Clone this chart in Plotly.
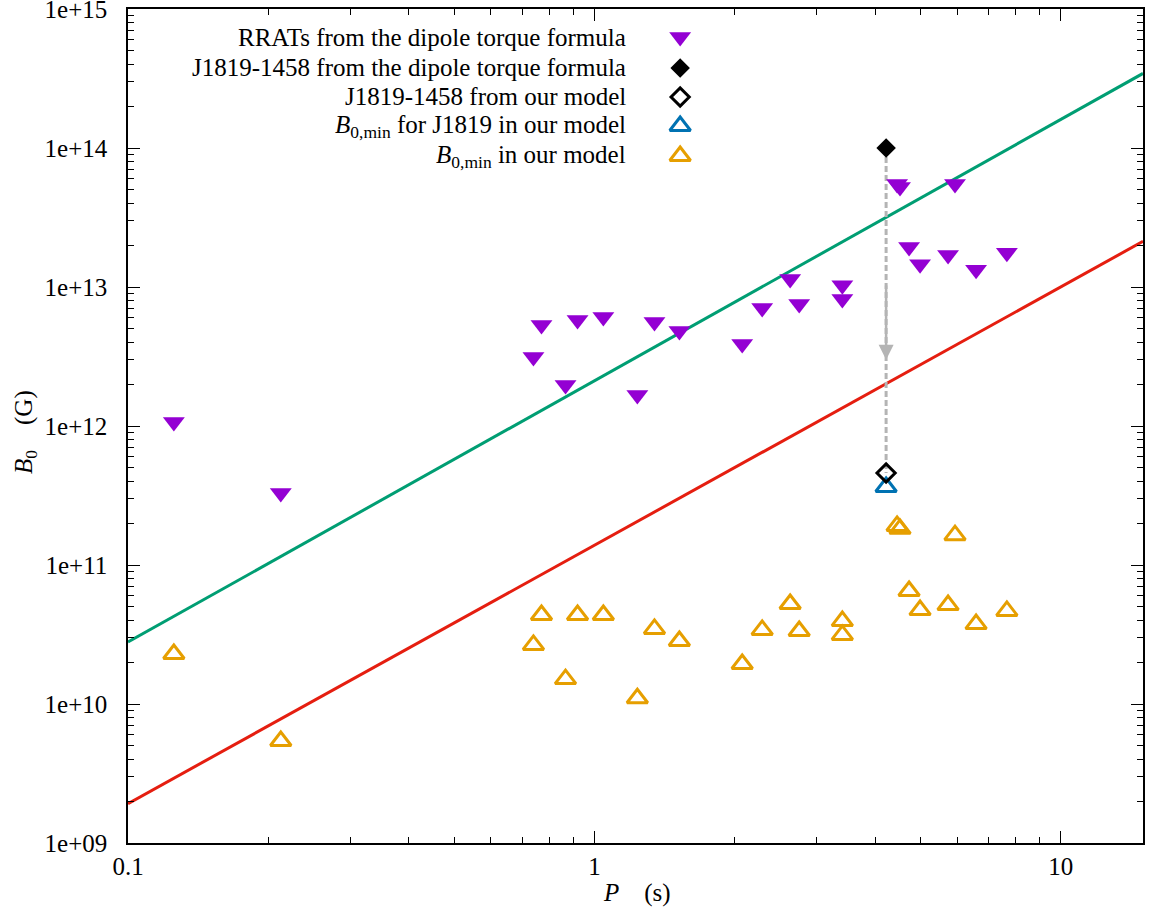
import plotly.graph_objects as go
import numpy as np

# RRATs: dipole torque formula (purple) and B0,min in our model (orange)
rrat_P = [0.1254, 0.2126, 0.740, 0.770, 0.867, 0.920, 1.045, 1.236, 1.345, 1.521,
          2.074, 2.289, 2.628, 2.748, 3.40, 3.40, 4.455, 4.52, 4.727, 4.99,
          5.73, 5.93, 6.58, 7.66]
rrat_B_dipole = [1.07e12, 3.3e11, 3.14e12, 5.33e12, 1.97e12, 5.79e12, 6.09e12, 1.67e12, 5.60e12, 4.82e12,
                 3.89e12, 7.06e12, 1.14e13, 7.55e12, 1.03e13, 8.2e12, 5.51e13, 5.24e13, 1.94e13, 1.46e13,
                 1.70e13, 5.51e13, 1.33e13, 1.76e13]
rrat_B_min = [2.29e10, 5.42e9, 2.66e10, 4.37e10, 1.51e10, 4.37e10, 4.37e10, 1.10e10, 3.47e10, 2.84e10,
              1.94e10, 3.41e10, 5.24e10, 3.35e10, 3.95e10, 3.14e10, 1.91e11, 1.82e11, 6.50e10, 4.74e10,
              5.15e10, 1.64e11, 3.76e10, 4.67e10]

# J1819-1458
j1819_P = [4.22]
j1819_B_dipole = [1.0e14]
j1819_B_model = [4.59e11]
j1819_B_min = [3.64e11]
arrow_B = [1.05e13, 3.0e12]   # arrow segment (tail, head)

# Reference lines (endpoints)
line_P = [0.1, 15.0]
green_B = [2.79e10, 3.44e14]
red_B = [1.92e9, 2.13e13]

legend_labels = [
    "RRATs from the dipole torque formula",
    "J1819-1458 from the dipole torque formula",
    "J1819-1458 from our model",
    "<i>B</i><sub>0,min</sub> for J1819 in our model",
    "<i>B</i><sub>0,min</sub> in our model",
]

PURPLE = "#9400d3"
GREEN = "#009e73"
BLUE = "#0072b2"
ORANGE = "#e69f00"
RED = "#e51e10"
GRAY = "#b4b4b4"
FONT = "Liberation Serif"
FS = 25

fig = go.Figure()

fig.add_trace(go.Scatter(x=line_P, y=green_B, mode="lines",
                         line=dict(color=GREEN, width=3), showlegend=False))
fig.add_trace(go.Scatter(x=line_P, y=red_B, mode="lines",
                         line=dict(color=RED, width=3), showlegend=False))
fig.add_trace(go.Scatter(x=j1819_P * 2, y=[j1819_B_dipole[0], j1819_B_model[0]], mode="lines",
                         line=dict(color=GRAY, width=3, dash="6px,3px"), showlegend=False))

fig.add_trace(go.Scatter(x=rrat_P, y=rrat_B_dipole, mode="markers",
                         marker=dict(symbol="triangle-down", size=19, color=PURPLE, line=dict(width=0)),
                         showlegend=False))
fig.add_trace(go.Scatter(x=rrat_P, y=rrat_B_min, mode="markers",
                         marker=dict(symbol="triangle-up-open", size=18, color=ORANGE, line=dict(width=3, color=ORANGE)),
                         showlegend=False))
fig.add_trace(go.Scatter(x=j1819_P, y=j1819_B_dipole, mode="markers",
                         marker=dict(symbol="diamond", size=15, color="black", line=dict(width=0)),
                         showlegend=False))
fig.add_trace(go.Scatter(x=j1819_P, y=j1819_B_min, mode="markers",
                         marker=dict(symbol="triangle-up-open", size=18, color=BLUE, line=dict(width=3, color=BLUE)),
                         showlegend=False))
fig.add_trace(go.Scatter(x=j1819_P, y=j1819_B_model, mode="markers",
                         marker=dict(symbol="diamond-open", size=14, color="black", line=dict(width=3, color="black")),
                         showlegend=False))

# arrow
fig.add_annotation(x=np.log10(j1819_P[0]), y=np.log10(arrow_B[1]),
                   ax=np.log10(j1819_P[0]), ay=np.log10(arrow_B[0]),
                   xref="x", yref="y", axref="x", ayref="y",
                   showarrow=True, arrowhead=2, arrowsize=1.2, arrowwidth=2.5, arrowcolor=GRAY, text="")

# manual legend (text right-aligned, symbol on its right), using overlay axes in [0,1]
leg_y = [0.9664, 0.9293, 0.8945, 0.8597, 0.8237]
leg_x = 0.544
leg_styles = [
    dict(symbol="triangle-down", size=19, color=PURPLE, line=dict(width=0)),
    dict(symbol="diamond", size=15, color="black", line=dict(width=0)),
    dict(symbol="diamond-open", size=14, color="black", line=dict(width=3, color="black")),
    dict(symbol="triangle-up-open", size=18, color=BLUE, line=dict(width=3, color=BLUE)),
    dict(symbol="triangle-up-open", size=18, color=ORANGE, line=dict(width=3, color=ORANGE)),
]
for yy, st, lab in zip(leg_y, leg_styles, legend_labels):
    fig.add_trace(go.Scatter(x=[leg_x], y=[yy], mode="markers", marker=st,
                             xaxis="x2", yaxis="y2", showlegend=False))
    fig.add_annotation(x=0.4926, y=yy, xref="paper", yref="paper", text=lab,
                       showarrow=False, xanchor="right", yanchor="middle",
                       font=dict(family=FONT, size=FS, color="black"))

# minor tick values
x_minor = [m * 10.0 ** e for e in range(-1, 2) for m in range(2, 10) if m * 10.0 ** e < 15]
y_minor = [m * 10.0 ** e for e in range(9, 15) for m in range(2, 10)]

y_ticks = [1e9, 1e10, 1e11, 1e12, 1e13, 1e14, 1e15]
y_ticktext = ["1e+09", "1e+10", "1e+11", "1e+12", "1e+13", "1e+14", "1e+15"]
x_ticks = [0.1, 1, 10]
x_ticktext = ["0.1", "1", "10"]

fig.update_layout(
    width=1149, height=912,
    margin=dict(l=128, r=6, t=9, b=69, autoexpand=False),
    plot_bgcolor="white", paper_bgcolor="white",
    font=dict(family=FONT, size=FS, color="black"),
    xaxis=dict(type="log", range=[-1, np.log10(15.0)], tickmode="array",
               tickvals=x_ticks, ticktext=x_ticktext, ticks="inside", ticklen=12,
               tickwidth=1.2, tickcolor="black", showgrid=False, zeroline=False,
               showline=True, linecolor="black", linewidth=1.5, mirror="allticks",
               ticklabelstandoff=0, ticklabeloverflow="allow", automargin=False,
               minor=dict(tickmode="array", tickvals=x_minor, ticks="inside", ticklen=6,
                          tickwidth=1, tickcolor="black", showgrid=False)),
    yaxis=dict(type="log", range=[9, 15], tickmode="array",
               tickvals=y_ticks, ticktext=y_ticktext, ticks="inside", ticklen=12,
               tickwidth=1.2, tickcolor="black", showgrid=False, zeroline=False,
               showline=True, linecolor="black", linewidth=1.5, mirror="allticks",
               ticklabelstandoff=14, ticklabeloverflow="allow", automargin=False,
               minor=dict(tickmode="array", tickvals=y_minor, ticks="inside", ticklen=6,
                          tickwidth=1, tickcolor="black", showgrid=False)),
    xaxis2=dict(overlaying="x", range=[0, 1], visible=False),
    yaxis2=dict(overlaying="y", range=[0, 1], visible=False),
)

fig.add_annotation(x=0.5015, y=-0.06, xref="paper", yref="paper",
                   text="<i>P</i>    (s)", showarrow=False, xanchor="center", yanchor="middle",
                   font=dict(family=FONT, size=FS))
fig.add_annotation(x=-0.1015, y=0.4928, xref="paper", yref="paper",
                   text="<i>B</i><sub>0</sub>    (G)", showarrow=False, textangle=-90,
                   xanchor="center", yanchor="middle", font=dict(family=FONT, size=FS))

fig.write_html("out.html", config={"displayModeBar": False},
               post_script="document.body.style.margin='0';")
